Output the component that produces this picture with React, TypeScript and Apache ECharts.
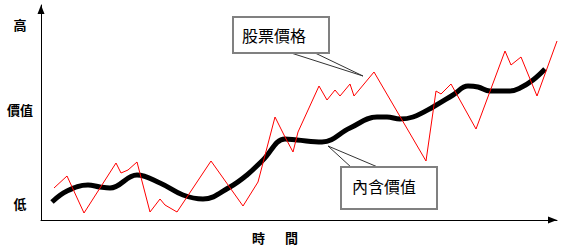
import React, { useEffect, useRef } from 'react';
import * as echarts from 'echarts';

// 股票價格 (red zigzag): [time, value]
const stockPrice: [number, number][] = [
  [13, 32], [26, 44], [43, 7], [75, 57], [80, 47], [87, 50], [96, 58],
  [109, 8], [119, 21], [124, 15], [136, 8], [170, 59], [202, 14], [217, 38],
  [234, 103], [244, 83], [252, 68], [257, 88], [278, 134], [286, 120],
  [294, 130], [299, 124], [309, 136], [313, 124], [333, 148], [385, 59],
  [395, 129], [400, 126], [410, 136], [435, 91], [464, 169], [470, 155],
  [480, 163], [496, 124], [516, 179],
];

// 內含價值 (black smooth line): [time, value]
const intrinsicValue: [number, number][] = [
  [11, 18], [26, 29], [47, 35], [59, 33], [69, 32], [96, 45], [119, 37],
  [142, 25], [162, 21], [189, 33], [206, 45], [222, 60], [244, 81],
  [256, 80], [281, 78], [309, 92], [336, 103], [346, 103], [359, 101],
  [372, 103], [392, 113], [412, 125], [427, 134], [437, 133], [449, 129],
  [469, 129], [479, 132], [492, 140], [504, 151],
];

const yTickValues = [17, 111, 196];
const yTickLabels = ['低', '價值', '高'];
const xAxisWords = ['時', '間'];
const calloutPrice = '股票價格';
const calloutValue = '內含價值';

export default function App() {
  const ref = useRef<HTMLDivElement>(null);
  useEffect(() => {
    if (!ref.current) return;
    const chart = echarts.init(ref.current, null, { renderer: 'svg' });
    const cjk = '"Noto Sans CJK TC", "Noto Sans CJK SC", sans-serif';
    chart.setOption({
      animation: false,
      backgroundColor: '#ffffff',
      grid: { left: 41, right: 8, top: 5, bottom: 27 },
      xAxis: {
        type: 'value',
        min: 0,
        max: 516,
        axisLine: {
          show: true,
          symbol: ['none', 'triangle'],
          symbolSize: [7, 9],
          symbolOffset: [0, -4.5],
          lineStyle: { color: '#000', width: 1 },
        },
        axisTick: { show: false },
        axisLabel: { show: false },
        splitLine: { show: false },
      },
      yAxis: {
        type: 'value',
        min: 0,
        max: 215,
        axisLine: {
          show: true,
          symbol: ['none', 'triangle'],
          symbolSize: [7, 9],
          symbolOffset: [0, -4.5],
          lineStyle: { color: '#000', width: 1 },
        },
        axisTick: { show: false },
        splitLine: { show: false },
        axisLabel: {
          show: true,
          customValues: yTickValues,
          formatter: (v: number) => {
            const i = yTickValues.indexOf(v);
            return i >= 0 ? yTickLabels[i] : '';
          },
          align: 'center',
          margin: 21,
          color: '#000',
          fontSize: 13,
          fontWeight: 'bold',
          fontFamily: cjk,
        },
      },
      series: [
        {
          type: 'line',
          data: intrinsicValue,
          smooth: 0.4,
          showSymbol: false,
          clip: false,
          lineStyle: { color: '#000', width: 5 },
          z: 2,
        },
        {
          type: 'line',
          data: stockPrice,
          showSymbol: false,
          clip: false,
          lineStyle: { color: '#ff0000', width: 1 },
          z: 3,
        },
      ],
      graphic: [
        {
          type: 'polygon',
          z: 10,
          shape: { points: [[288, 52], [313, 52], [363, 76]] },
          style: { fill: '#fff', stroke: '#333', lineWidth: 1 },
        },
        {
          type: 'rect',
          z: 11,
          shape: { x: 233, y: 17, width: 96, height: 36 },
          style: { fill: '#fff', stroke: '#808080', lineWidth: 2 },
        },
        {
          type: 'text',
          z: 12,
          x: 242,
          y: 35,
          style: {
            text: calloutPrice,
            fill: '#000',
            font: `16px ${cjk}`,
            verticalAlign: 'middle',
            align: 'left',
          },
        },
        {
          type: 'polygon',
          z: 10,
          shape: { points: [[352, 168], [380, 168], [328, 146]] },
          style: { fill: '#fff', stroke: '#333', lineWidth: 1 },
        },
        {
          type: 'rect',
          z: 11,
          shape: { x: 341, y: 167, width: 96, height: 42 },
          style: { fill: '#fff', stroke: '#808080', lineWidth: 2 },
        },
        {
          type: 'text',
          z: 12,
          x: 352,
          y: 186,
          style: {
            text: calloutValue,
            fill: '#000',
            font: `16px ${cjk}`,
            verticalAlign: 'middle',
            align: 'left',
          },
        },
        {
          type: 'text',
          z: 12,
          x: 258.5,
          y: 237,
          style: {
            text: xAxisWords[0],
            fill: '#000',
            font: `bold 13px ${cjk}`,
            verticalAlign: 'middle',
            align: 'center',
          },
        },
        {
          type: 'text',
          z: 12,
          x: 291.5,
          y: 237,
          style: {
            text: xAxisWords[1],
            fill: '#000',
            font: `bold 13px ${cjk}`,
            verticalAlign: 'middle',
            align: 'center',
          },
        },
      ],
    });
    return () => chart.dispose();
  }, []);
  return (
    <div
      ref={ref}
      style={{ position: 'fixed', left: 0, top: 0, width: 565, height: 247 }}
    />
  );
}
